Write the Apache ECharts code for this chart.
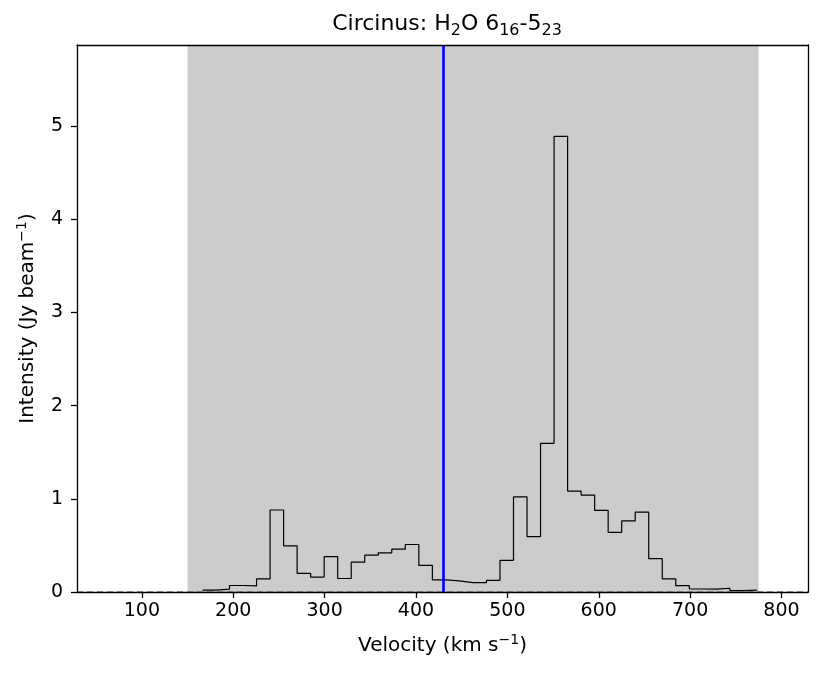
<!DOCTYPE html>
<html>
<head>
<meta charset="utf-8">
<script src="https://cdn.jsdelivr.net/npm/echarts@6/dist/echarts.min.js"></script>
<style>
  html, body { margin: 0; background: #fff; }
  #chart { width: 830px; height: 675px; }
</style>
</head>
<body>
<div id="chart"></div>
<script>
// spectrum, one value per channel (bin centre in km/s)
const velocity = [
  173.7, 188.5, 203.3, 218.1, 232.9, 247.7, 262.5, 277.3, 292.1, 306.9,
  321.7, 336.5, 351.3, 366.1, 380.9, 395.7, 410.5, 425.3, 440.1, 454.9,
  469.7, 484.5, 499.3, 514.1, 528.9, 543.7, 558.5, 573.3, 588.1, 602.9,
  617.7, 632.5, 647.3, 662.1, 676.9, 691.7, 706.5, 721.3, 736.1, 750.9,
  765.7
]
const intensity = [
  0.02, 0.03, 0.07, 0.065, 0.14, 0.88, 0.495, 0.2, 0.16, 0.38,
  0.145, 0.32, 0.395, 0.42, 0.46, 0.51, 0.285, 0.13, 0.12, 0.1,
  0.1, 0.125, 0.34, 1.02, 0.595, 1.595, 4.89, 1.083, 1.04, 0.875,
  0.64, 0.763, 0.857, 0.358, 0.14, 0.068, 0.032, 0.03, 0.04, 0.015,
  0.02
]
const binWidth = 14.8
const xTicks = [100, 200, 300, 400, 500, 600, 700, 800]
const yTicks = [0, 1, 2, 3, 4, 5]
const fitWindow = [150, 775]
const systemicVelocity = 430

const font = 'DejaVu Sans'
const xRange = [29, 829]
const yRange = [0, 5.87]

// left bin edges for a step line, plus the closing edge
const steps = velocity.map((v, i) => [v - binWidth / 2, intensity[i]])
steps.push([velocity[velocity.length - 1] + binWidth / 2, intensity[intensity.length - 1]])

const chart = echarts.init(document.getElementById('chart'))

const frameAxis = { show: true, lineStyle: { color: '#000', width: 1.3 } }
const supRich = {
  a: { fontFamily: font, fontSize: 20, color: '#000', lineHeight: 26, verticalAlign: 'middle' },
  u: { fontFamily: font, fontSize: 14, color: '#000', lineHeight: 12, verticalAlign: 'top' },
}
const tickLabel = { fontFamily: font, fontSize: 19, color: '#000' }

chart.setOption({
  animation: false,
  title: {
    text: '{a|Circinus: H}{s|2}{a|O 6}{s|16}{a|-5}{s|23}',
    left: 442,
    top: 4,
    textAlign: 'center',
    textStyle: {
      fontWeight: 'normal',
      rich: {
        a: { fontFamily: font, fontSize: 22, fontWeight: 'normal', color: '#000', lineHeight: 30, verticalAlign: 'middle' },
        s: { fontFamily: font, fontSize: 16, fontWeight: 'normal', color: '#000', lineHeight: 13, verticalAlign: 'bottom' },
      },
    },
  },
  grid: { left: 77, right: 22, top: 45, bottom: 83 },
  xAxis: [
    {
      type: 'value',
      min: xRange[0],
      max: xRange[1],
      z: 10,
      name: '{a|Velocity (km s}{u|−1}{a|)}',
      nameLocation: 'middle',
      nameGap: 41,
      nameTextStyle: { rich: supRich },
      axisLine: { ...frameAxis, onZero: false },
      axisTick: { show: true, length: 6, lineStyle: { color: '#000', width: 1.3 }, customValues: xTicks },
      axisLabel: { ...tickLabel, margin: 10, customValues: xTicks },
      splitLine: { show: false },
    },
    {
      type: 'value',
      position: 'top',
      min: xRange[0],
      max: xRange[1],
      z: 10,
      axisLine: { ...frameAxis, onZero: false },
      axisTick: { show: false },
      axisLabel: { show: false },
      splitLine: { show: false },
    },
  ],
  yAxis: [
    {
      type: 'value',
      min: yRange[0],
      max: yRange[1],
      z: 10,
      name: '{a|Intensity (Jy beam}{u|−1}{a|)}',
      nameLocation: 'middle',
      nameGap: 36,
      nameTextStyle: { rich: supRich },
      axisLine: { ...frameAxis, onZero: false },
      axisTick: { show: true, length: 6, lineStyle: { color: '#000', width: 1.3 }, customValues: yTicks },
      axisLabel: { ...tickLabel, margin: 14, customValues: yTicks },
      splitLine: { show: false },
    },
    {
      type: 'value',
      position: 'right',
      min: yRange[0],
      max: yRange[1],
      z: 10,
      axisLine: { ...frameAxis, onZero: false },
      axisTick: { show: false },
      axisLabel: { show: false },
      splitLine: { show: false },
    },
  ],
  series: [
    {
      type: 'line',
      data: steps,
      step: 'end',
      symbol: 'none',
      silent: true,
      z: 3,
      lineStyle: { color: '#000', width: 1.2 },
      markArea: {
        silent: true,
        itemStyle: { color: '#cccccc' },
        data: [[{ xAxis: fitWindow[0] }, { xAxis: fitWindow[1] }]],
      },
    },
    {
      type: 'line',
      data: [],
      z: 4,
      markLine: {
        silent: true,
        symbol: 'none',
        label: { show: false },
        data: [
          { yAxis: 0, lineStyle: { color: '#808080', width: 1.5, type: [6, 4] } },
          { xAxis: systemicVelocity, lineStyle: { color: '#0000ff', width: 2.6, type: 'solid' } },
        ],
      },
    },
  ],
})
</script>
</body>
</html>
